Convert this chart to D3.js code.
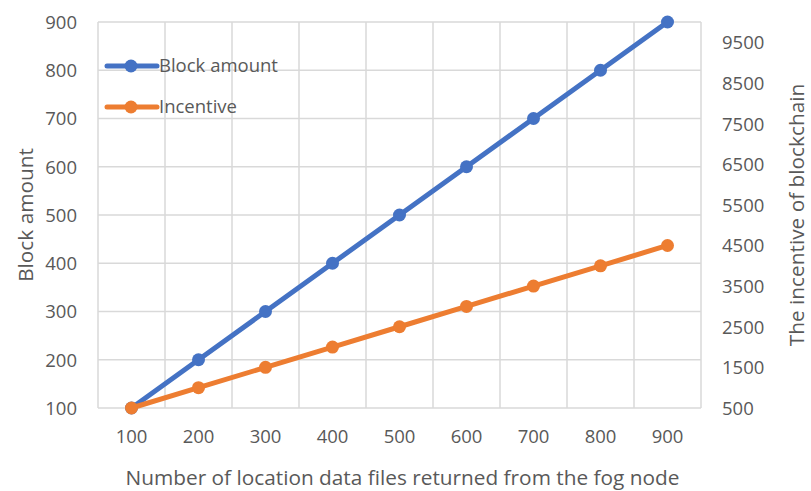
<!DOCTYPE html>
<html>
<head>
<meta charset="utf-8">
<script src="https://cdn.jsdelivr.net/npm/d3@7"></script>
<style>
  body { margin: 0; background: #fff; }
  svg text { font-family: "Open Sans", "Liberation Sans", sans-serif; fill: #595959; }
</style>
</head>
<body>
<svg id="chart" width="811" height="491"></svg>
<script>
// Number of location data files returned from the fog node
const categories = [100, 200, 300, 400, 500, 600, 700, 800, 900];
// Left axis series
const blockAmount = [100, 200, 300, 400, 500, 600, 700, 800, 900];
// Right axis series
const incentive = [500, 1000, 1500, 2000, 2500, 3000, 3500, 4000, 4500];
const leftTicks = [100, 200, 300, 400, 500, 600, 700, 800, 900];
const rightTicks = [500, 1500, 2500, 3500, 4500, 5500, 6500, 7500, 8500, 9500];

const svg = d3.select("#chart");
const plot = { left: 98, right: 701, top: 22, bottom: 408 };
const fontSize = 18.5;
const titleSize = 20.8;
const gridColor = "#d9d9d9";
const blue = "#4472C4", orange = "#ED7D31";

const x = d3.scaleBand().domain(categories).range([plot.left, plot.right]).padding(0);
const yL = d3.scaleLinear().domain([100, 900]).range([plot.bottom, plot.top]);
const yR = d3.scaleLinear().domain([500, 10000]).range([plot.bottom, plot.top]);
const cx = d => x(d) + x.bandwidth() / 2;

// Horizontal gridlines
svg.append("g").selectAll("line").data(leftTicks).join("line")
  .attr("x1", plot.left).attr("x2", plot.right)
  .attr("y1", d => yL(d)).attr("y2", d => yL(d))
  .attr("stroke", gridColor).attr("stroke-width", 1.5);

// Vertical gridlines at category boundaries
const bounds = categories.map(c => x(c)).concat([plot.right]);
svg.append("g").selectAll("line").data(bounds).join("line")
  .attr("x1", d => d).attr("x2", d => d)
  .attr("y1", plot.top).attr("y2", plot.bottom)
  .attr("stroke", gridColor).attr("stroke-width", 1.5);

// Left axis
const axL = svg.append("g").attr("transform", `translate(${plot.left},0)`)
  .call(d3.axisLeft(yL).tickValues(leftTicks).tickSize(0).tickPadding(21).tickFormat(d3.format("d")));
axL.select(".domain").remove();
axL.selectAll("text").style("font-size", fontSize + "px").attr("dy", "0.35em");

// Right axis
const axR = svg.append("g").attr("transform", `translate(${plot.right},0)`)
  .call(d3.axisRight(yR).tickValues(rightTicks).tickSize(0).tickPadding(21).tickFormat(d3.format("d")));
axR.select(".domain").remove();
axR.selectAll("text").style("font-size", fontSize + "px").attr("dy", "0.35em");

// Bottom axis
const axB = svg.append("g").attr("transform", `translate(0,${plot.bottom})`)
  .call(d3.axisBottom(x).tickSize(0).tickFormat(d3.format("d")));
axB.select(".domain").remove();
axB.selectAll("text").style("font-size", fontSize + "px").attr("dy", "0.35em")
  .attr("y", 29);

// Axis titles
svg.append("text").attr("x", 402.5).attr("y", 478).attr("dy", "0.35em")
  .attr("text-anchor", "middle").style("font-size", titleSize + "px")
  .text("Number of location data files returned from the fog node");
svg.append("text").attr("transform", "translate(26,215) rotate(-90)").attr("dy", "0.35em")
  .attr("text-anchor", "middle").style("font-size", titleSize + "px")
  .text("Block amount");
svg.append("text").attr("transform", "translate(797,215) rotate(-90)").attr("dy", "0.35em")
  .attr("text-anchor", "middle").style("font-size", titleSize + "px")
  .text("The incentive of blockchain");

// Series
function drawSeries(values, yScale, color) {
  const pts = categories.map((c, i) => [cx(c), yScale(values[i])]);
  svg.append("path").attr("d", d3.line()(pts))
    .attr("fill", "none").attr("stroke", color).attr("stroke-width", 5)
    .attr("stroke-linejoin", "round");
  svg.append("g").selectAll("circle").data(pts).join("circle")
    .attr("cx", d => d[0]).attr("cy", d => d[1]).attr("r", 6.5)
    .attr("fill", color);
}
drawSeries(blockAmount, yL, blue);
drawSeries(incentive, yR, orange);

// Legend
const legend = [
  { name: "Block amount", color: blue, y: 66 },
  { name: "Incentive", color: orange, y: 107 }
];
const lg = svg.append("g");
legend.forEach(l => {
  lg.append("line").attr("x1", 107).attr("x2", 157).attr("y1", l.y).attr("y2", l.y)
    .attr("stroke", l.color).attr("stroke-width", 5).attr("stroke-linecap", "round");
  lg.append("circle").attr("cx", 131).attr("cy", l.y).attr("r", 6.5).attr("fill", l.color);
  lg.append("text").attr("x", 159).attr("y", l.y).attr("dy", "0.35em")
    .style("font-size", fontSize + "px").text(l.name);
});
</script>
</body>
</html>
